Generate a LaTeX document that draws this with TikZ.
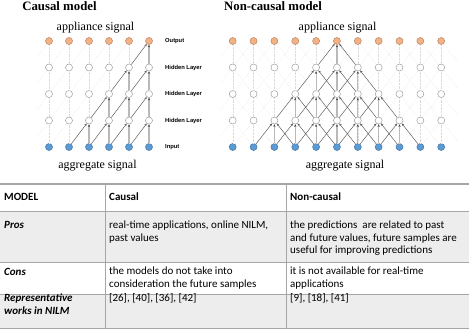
\documentclass[tikz,border=0pt]{standalone}
\usepackage{fontspec}
\setmainfont{Liberation Serif}
\setsansfont{Liberation Sans}
\newfontfamily\tablefont{Carlito}
\usetikzlibrary{arrows.meta, positioning, calc}
\definecolor{corange}{HTML}{F4B183}
\definecolor{cblue}{HTML}{5B9BD5}
\definecolor{crow}{HTML}{EDEDED}
\definecolor{crule}{HTML}{A6A6A6}
\tikzset{
  unit/.style={circle, draw=#1, line width=0.5pt, minimum size=7pt, inner sep=0pt},
  outunit/.style={unit=corange!75!black, fill=corange},
  hidunit/.style={unit=gray!75, fill=white},
  inunit/.style={unit=cblue!75!black, fill=cblue},
  link/.style={draw=gray!28, densely dotted, line width=0.4pt},
  diag/.style={-{Stealth[length=2.6pt, width=2.2pt]}, draw=black!65, line width=0.45pt},
  vert/.style={-{Stealth[length=2.6pt, width=2.2pt, black!75]}, draw=gray!55, line width=1.1pt},
  title/.style={font=\bfseries\fontsize{12.8}{14}\selectfont},
  signal/.style={font=\fontsize{12}{14}\selectfont},
  layer/.style={font=\sffamily\bfseries\fontsize{5.8}{7}\selectfont, anchor=west, inner sep=0pt},
  cell/.style={font=\tablefont\fontsize{11}{12.7}\selectfont, anchor=base west, align=left, inner sep=0pt},
  head/.style={cell, font=\tablefont\bfseries\fontsize{11}{12.7}\selectfont},
  key/.style={cell, font=\tablefont\bfseries\itshape\fontsize{11}{12.7}\selectfont},
  rule/.style={draw=crule, line width=0.6pt},
}

\begin{document}
\begin{tikzpicture}[x=1pt, y=-1pt]
  \useasboundingbox (0,0) rectangle (469,332);
  % (a) causal model
  \node[title] (ctitle) at (59.5,6.5) {Causal model};
  \node[signal] (capp) at (95.5,28) {appliance signal};
  \node[signal] (cagg) at (97.5,166) {aggregate signal};
  \foreach \r/\y/\kind in {0/147/inunit, 1/120.5/hidunit, 2/94/hidunit, 3/67.5/hidunit, 4/41/outunit}
    \foreach \i in {0,...,5}
      \node[\kind] (c-\r-\i) at ({49+20*\i},\y) {};
  \foreach \r/\y/\txt in {0/147/Input, 1/120.5/Hidden Layer, 2/94/Hidden Layer, 3/67.5/Hidden Layer, 4/41/Output}
    \node[layer] (clab-\r) at (165,\y) {\txt};
  \foreach \r/\s/\y in {0/1/147, 1/2/120.5, 2/3/94, 3/4/67.5} {
    \coordinate (cstub-\s) at (37,{\y-10.6});
    \draw[link] (cstub-\s) -- (c-\s-0);
    \foreach \i/\j in {0/1, 1/2, 2/3, 3/4, 4/5}
      \draw[link] (c-\r-\i) -- (c-\s-\j);
    \foreach \i in {0,...,5}
      \draw[link] (c-\r-\i) -- (c-\s-\i);
  }
  \foreach \r/\s/\lo in {0/1/2, 1/2/3, 2/3/4, 3/4/5}
    \foreach \j in {\lo,...,5} {
      \pgfmathtruncatemacro\i{\j-1}
      \draw[vert] (c-\r-\j) -- (c-\s-\j);
      \draw[diag] (c-\r-\i) -- (c-\s-\j);
    }
  % (b) non-causal model
  \node[title] (ntitle) at (273,6.5) {Non-causal model};
  \node[signal] (napp) at (337.5,28) {appliance signal};
  \node[signal] (nagg) at (345,166) {aggregate signal};
  \foreach \r/\y/\kind in {0/147/inunit, 1/120.5/hidunit, 2/94/hidunit, 3/67.5/hidunit, 4/41/outunit}
    \foreach \i in {0,...,10}
      \node[\kind] (n-\r-\i) at ({232.7+20.85*\i},\y) {};
  \foreach \r/\s/\y in {0/1/147, 1/2/120.5, 2/3/94, 3/4/67.5} {
    \coordinate (nstubl-\s) at (220.2,{\y-10.6});
    \coordinate (nstubr-\s) at (458,{\y-5.3});
    \draw[link] (nstubl-\s) -- (n-\s-0);
    \draw[link] (nstubr-\s) -- (n-\s-10);
    \foreach \i/\j in {0/1, 1/2, 2/3, 3/4, 4/5, 5/6, 6/7, 7/8, 8/9, 9/10} {
      \draw[link] (n-\r-\i) -- (n-\s-\j);
      \draw[link] (n-\r-\j) -- (n-\s-\i);
    }
    \foreach \i in {0,...,10}
      \draw[link] (n-\r-\i) -- (n-\s-\i);
  }
  \foreach \r/\s/\lo/\hi in {0/1/2/8, 1/2/3/7, 2/3/4/6, 3/4/5/5}
    \foreach \j in {\lo,...,\hi} {
      \pgfmathtruncatemacro\i{\j-1}
      \pgfmathtruncatemacro\k{\j+1}
      \draw[vert] (n-\r-\j) -- (n-\s-\j);
      \draw[diag] (n-\r-\i) -- (n-\s-\j);
      \draw[diag] (n-\r-\k) -- (n-\s-\j);
    }
  % comparison table (cells sit on the baseline of their last line)
  \fill[crow] (0,211) rectangle (469,262);
  \fill[crow] (0,294) rectangle (469,328);
  \draw[rule] (0,211) -- (469,211);
  \draw[rule] (0,262) -- (469,262);
  \draw[rule] (0,294) -- (469,294);
  \draw[rule] (0,328) -- (469,328);
  \draw[rule] (105,184) -- (105,328);
  \draw[rule] (286,184) -- (286,328);
  \draw[rule, line width=1.5pt] (0,184) -- (469,184);
  \node[head] (hmodel) at (4,200.5) {MODEL};
  \node[head] (hcausal) at (109,200.5) {Causal};
  \node[head] (hnoncausal) at (290,200.5) {Non-causal};
  \node[key] (pros) at (4,228.5) {Pros};
  \node[cell] (pcausal) at (109,241.2) {real-time applications, online NILM,\\past values};
  \node[cell] (pnoncausal) at (290,253.9) {the predictions\ \ are related to past\\and future values, future samples are\\useful for improving predictions};
  \node[key] (cons) at (4,275.5) {Cons};
  \node[cell] (ccausal) at (109,287.2) {the models do not take into\\consideration the future samples};
  \node[cell] (cnoncausal) at (290,287.2) {it is not available for real-time\\applications};
  \node[key] (works) at (4,314.2) {Representative\\works in NILM};
  \node[cell] (wcausal) at (109,301.5) {[26], [40], [36], [42]};
  \node[cell] (wnoncausal) at (290,301.5) {[9], [18], [41]};
\end{tikzpicture}
\end{document}
